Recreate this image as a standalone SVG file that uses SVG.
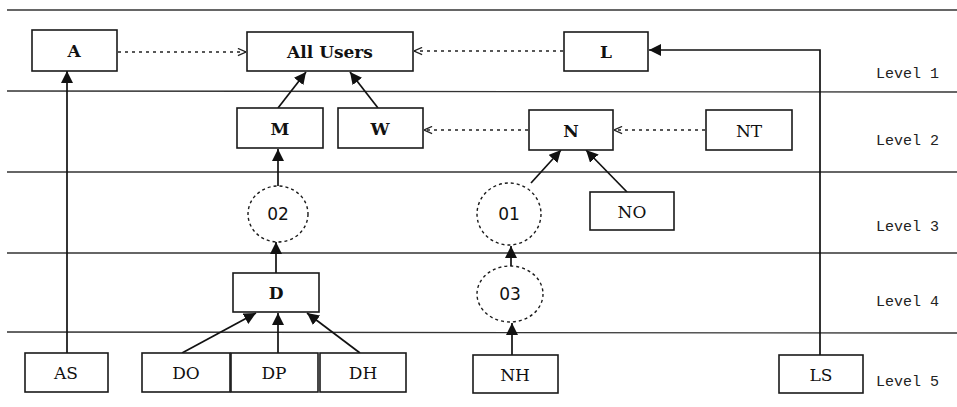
<svg xmlns="http://www.w3.org/2000/svg" width="957" height="407" viewBox="0 0 957 407">
  <style>
    .bg { fill: #ffffff; }
    .band { stroke: #333; stroke-width: 1.3; fill: none; }
    .box { fill: #ffffff; stroke: #1a1a1a; stroke-width: 1.6; }
    .oval { fill: #ffffff; stroke: #1a1a1a; stroke-width: 1.4; stroke-dasharray: 3 3; }
    .bold { font-family: "DejaVu Serif", "Liberation Serif", serif; font-weight: bold; font-size: 17px; fill: #111; text-anchor: middle; }
    .reg { font-family: "DejaVu Serif", "Liberation Serif", serif; font-size: 17px; fill: #111; text-anchor: middle; }
    .num { font-family: "DejaVu Sans", "Liberation Sans", sans-serif; font-size: 17px; fill: #111; text-anchor: middle; }
    .lvl { font-family: "Liberation Mono", "DejaVu Sans Mono", monospace; font-size: 15px; fill: #222; }
    .solid { stroke: #111; stroke-width: 1.7; fill: none; marker-end: url(#tri); }
    .dot { stroke: #222; stroke-width: 1.3; fill: none; stroke-dasharray: 3 4; marker-end: url(#vee); }
  </style>
  <defs>
    <marker id="tri" viewBox="0 0 10 10" refX="10" refY="5" markerWidth="12" markerHeight="12" markerUnits="userSpaceOnUse" orient="auto">
      <path d="M0,0 L10,5 L0,10 z" fill="#111"/>
    </marker>
    <marker id="vee" viewBox="0 0 10 10" refX="10" refY="5" markerWidth="9" markerHeight="9" markerUnits="userSpaceOnUse" orient="auto">
      <path d="M1,1 L10,5 L1,9" fill="none" stroke="#222" stroke-width="1.4"/>
    </marker>
  </defs>

  <rect class="bg" x="0" y="0" width="957" height="407"/>

  <!-- level bands -->
  <g id="bands">
    <line class="band" x1="7" y1="10" x2="957" y2="10"/>
    <line class="band" x1="7" y1="91" x2="957" y2="92"/>
    <line class="band" x1="7" y1="172" x2="957" y2="172"/>
    <line class="band" x1="7" y1="253" x2="957" y2="253"/>
    <line class="band" x1="7" y1="332" x2="957" y2="333"/>
    <text class="lvl" x="876" y="78">Level 1</text>
    <text class="lvl" x="876" y="145">Level 2</text>
    <text class="lvl" x="876" y="231">Level 3</text>
    <text class="lvl" x="876" y="306">Level 4</text>
    <text class="lvl" x="876" y="386">Level 5</text>
  </g>

  <!-- connectors -->
  <g id="connectors">
    <line class="solid" x1="67" y1="353" x2="67" y2="71"/>
    <line class="dot" x1="118" y1="52" x2="246" y2="52"/>
    <line class="dot" x1="563" y1="51" x2="414" y2="51"/>
    <polyline class="solid" points="820,355 820,50 649,50"/>
    <line class="solid" x1="278" y1="108" x2="306" y2="72"/>
    <line class="solid" x1="378" y1="108" x2="350" y2="72"/>
    <line class="dot" x1="528" y1="130" x2="424" y2="130"/>
    <line class="dot" x1="705" y1="130" x2="614" y2="130"/>
    <line class="solid" x1="278" y1="186" x2="278" y2="149"/>
    <line class="solid" x1="531" y1="183" x2="561" y2="150"/>
    <line class="solid" x1="627" y1="192" x2="586" y2="150"/>
    <line class="solid" x1="276" y1="273" x2="276" y2="242"/>
    <line class="solid" x1="511" y1="266" x2="511" y2="246"/>
    <line class="solid" x1="182" y1="353" x2="256" y2="313"/>
    <line class="solid" x1="278" y1="353" x2="278" y2="313"/>
    <line class="solid" x1="360" y1="353" x2="307" y2="313"/>
    <line class="solid" x1="512" y1="355" x2="512" y2="323"/>
  </g>

  <!-- level 1 -->
  <g id="node-A"><rect class="box" x="32" y="30" width="85" height="41"/><text class="bold" x="74" y="57">A</text></g>
  <g id="node-AllUsers"><rect class="box" x="247" y="32" width="166" height="39"/><text class="bold" x="330" y="58">All Users</text></g>
  <g id="node-L"><rect class="box" x="564" y="32" width="84" height="39"/><text class="bold" x="606" y="58">L</text></g>

  <!-- level 2 -->
  <g id="node-M"><rect class="box" x="237" y="108" width="86" height="40"/><text class="bold" x="280" y="135">M</text></g>
  <g id="node-W"><rect class="box" x="338" y="108" width="85" height="40"/><text class="bold" x="380" y="135">W</text></g>
  <g id="node-N"><rect class="box" x="529" y="110" width="84" height="40"/><text class="bold" x="571" y="137">N</text></g>
  <g id="node-NT"><rect class="box" x="706" y="110" width="86" height="40"/><text class="reg" x="749" y="137">NT</text></g>

  <!-- level 3 -->
  <g id="node-02"><ellipse class="oval" cx="278" cy="214" rx="30" ry="28"/><text class="num" x="278" y="220">02</text></g>
  <g id="node-01"><ellipse class="oval" cx="509" cy="214" rx="32" ry="31"/><text class="num" x="509" y="220">01</text></g>
  <g id="node-NO"><rect class="box" x="590" y="192" width="84" height="38"/><text class="reg" x="632" y="218">NO</text></g>

  <!-- level 4 -->
  <g id="node-D"><rect class="box" x="233" y="273" width="86" height="39"/><text class="bold" x="276" y="299">D</text></g>
  <g id="node-03"><ellipse class="oval" cx="510" cy="294" rx="33" ry="28"/><text class="num" x="510" y="300">03</text></g>

  <!-- level 5 -->
  <g id="node-AS"><rect class="box" x="25" y="353" width="83" height="39"/><text class="reg" x="66" y="379">AS</text></g>
  <g id="node-DO"><rect class="box" x="142" y="353" width="88" height="39"/><text class="reg" x="186" y="379">DO</text></g>
  <g id="node-DP"><rect class="box" x="231" y="353" width="87" height="39"/><text class="reg" x="274" y="379">DP</text></g>
  <g id="node-DH"><rect class="box" x="320" y="353" width="86" height="39"/><text class="reg" x="363" y="379">DH</text></g>
  <g id="node-NH"><rect class="box" x="473" y="355" width="85" height="38"/><text class="reg" x="515" y="381">NH</text></g>
  <g id="node-LS"><rect class="box" x="779" y="355" width="84" height="38"/><text class="reg" x="821" y="381">LS</text></g>
</svg>
